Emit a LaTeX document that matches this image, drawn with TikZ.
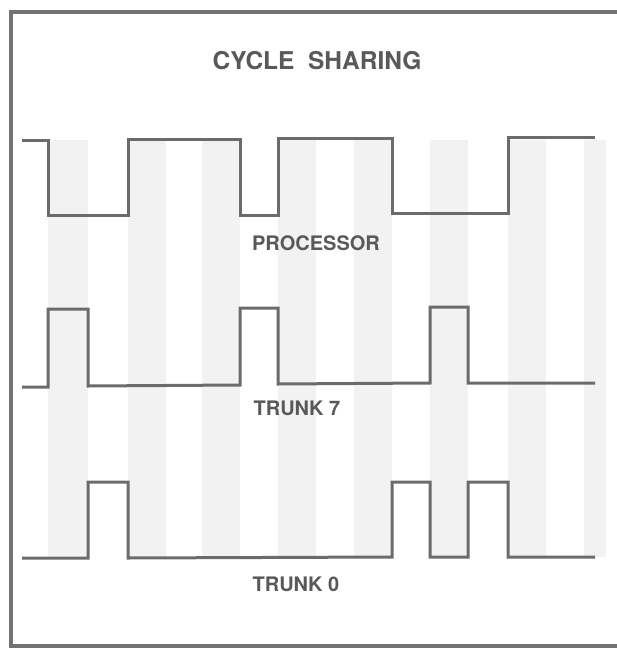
\documentclass[tikz,border=0pt]{standalone}
\usepackage{fontspec}
\setmainfont{TeX Gyre Heros}
\begin{document}
\begin{tikzpicture}[x=1pt,y=-1pt,
  wave/.style={draw=black!58,line width=3pt,line join=miter,line cap=butt},
  frameline/.style={draw=black!55,line width=4pt},
  slotband/.style={fill=black!5,draw=none},
  label/.style={text=black!65,font=\bfseries\fontsize{20}{22}\selectfont,inner sep=0pt}]
  \useasboundingbox (0,0) rectangle (617,648);
  % shaded time slots
  \foreach \a/\b in {48/88,128/166,202/240,278/316,354/392,430/468,508/546,584/606}
    \fill[slotband] (\a,140) rectangle (\b,557);
  % frame: left, top and bottom edges
  \draw[frameline] (617,12) -- (11,12) -- (11,646) -- (617,646);
  % title
  \node[label,font=\bfseries\fontsize{24.5}{28}\selectfont] (title) at (317,61) {CYCLE\ \ SHARING};
  % processor
  \draw[wave] (22,140) -- (48,140) -- (48,215) -- (128,215) -- (128,139) -- (240,139)
    -- (240,215) -- (278,215) -- (278,138) -- (392,138) -- (392,213) -- (508,213)
    -- (508,137) -- (595,137);
  \node[label] (proc) at (316,243) {PROCESSOR};
  % trunk 7
  \draw[wave] (22,387) -- (48,387) -- (48,309) -- (88,309) -- (88,386) -- (240,385)
    -- (240,308) -- (278,308) -- (278,384) -- (430,383) -- (430,307) -- (468,307)
    -- (468,383) -- (595,383);
  \node[label] (t7) at (297,408) {TRUNK 7};
  % trunk 0
  \draw[wave] (22,558) -- (88,558) -- (88,482) -- (128,482) -- (128,558) -- (392,557)
    -- (392,482) -- (430,482) -- (430,557) -- (468,557) -- (468,482) -- (508,482)
    -- (508,557) -- (595,557);
  \node[label] (t0) at (296,584) {TRUNK 0};
\end{tikzpicture}
\end{document}
